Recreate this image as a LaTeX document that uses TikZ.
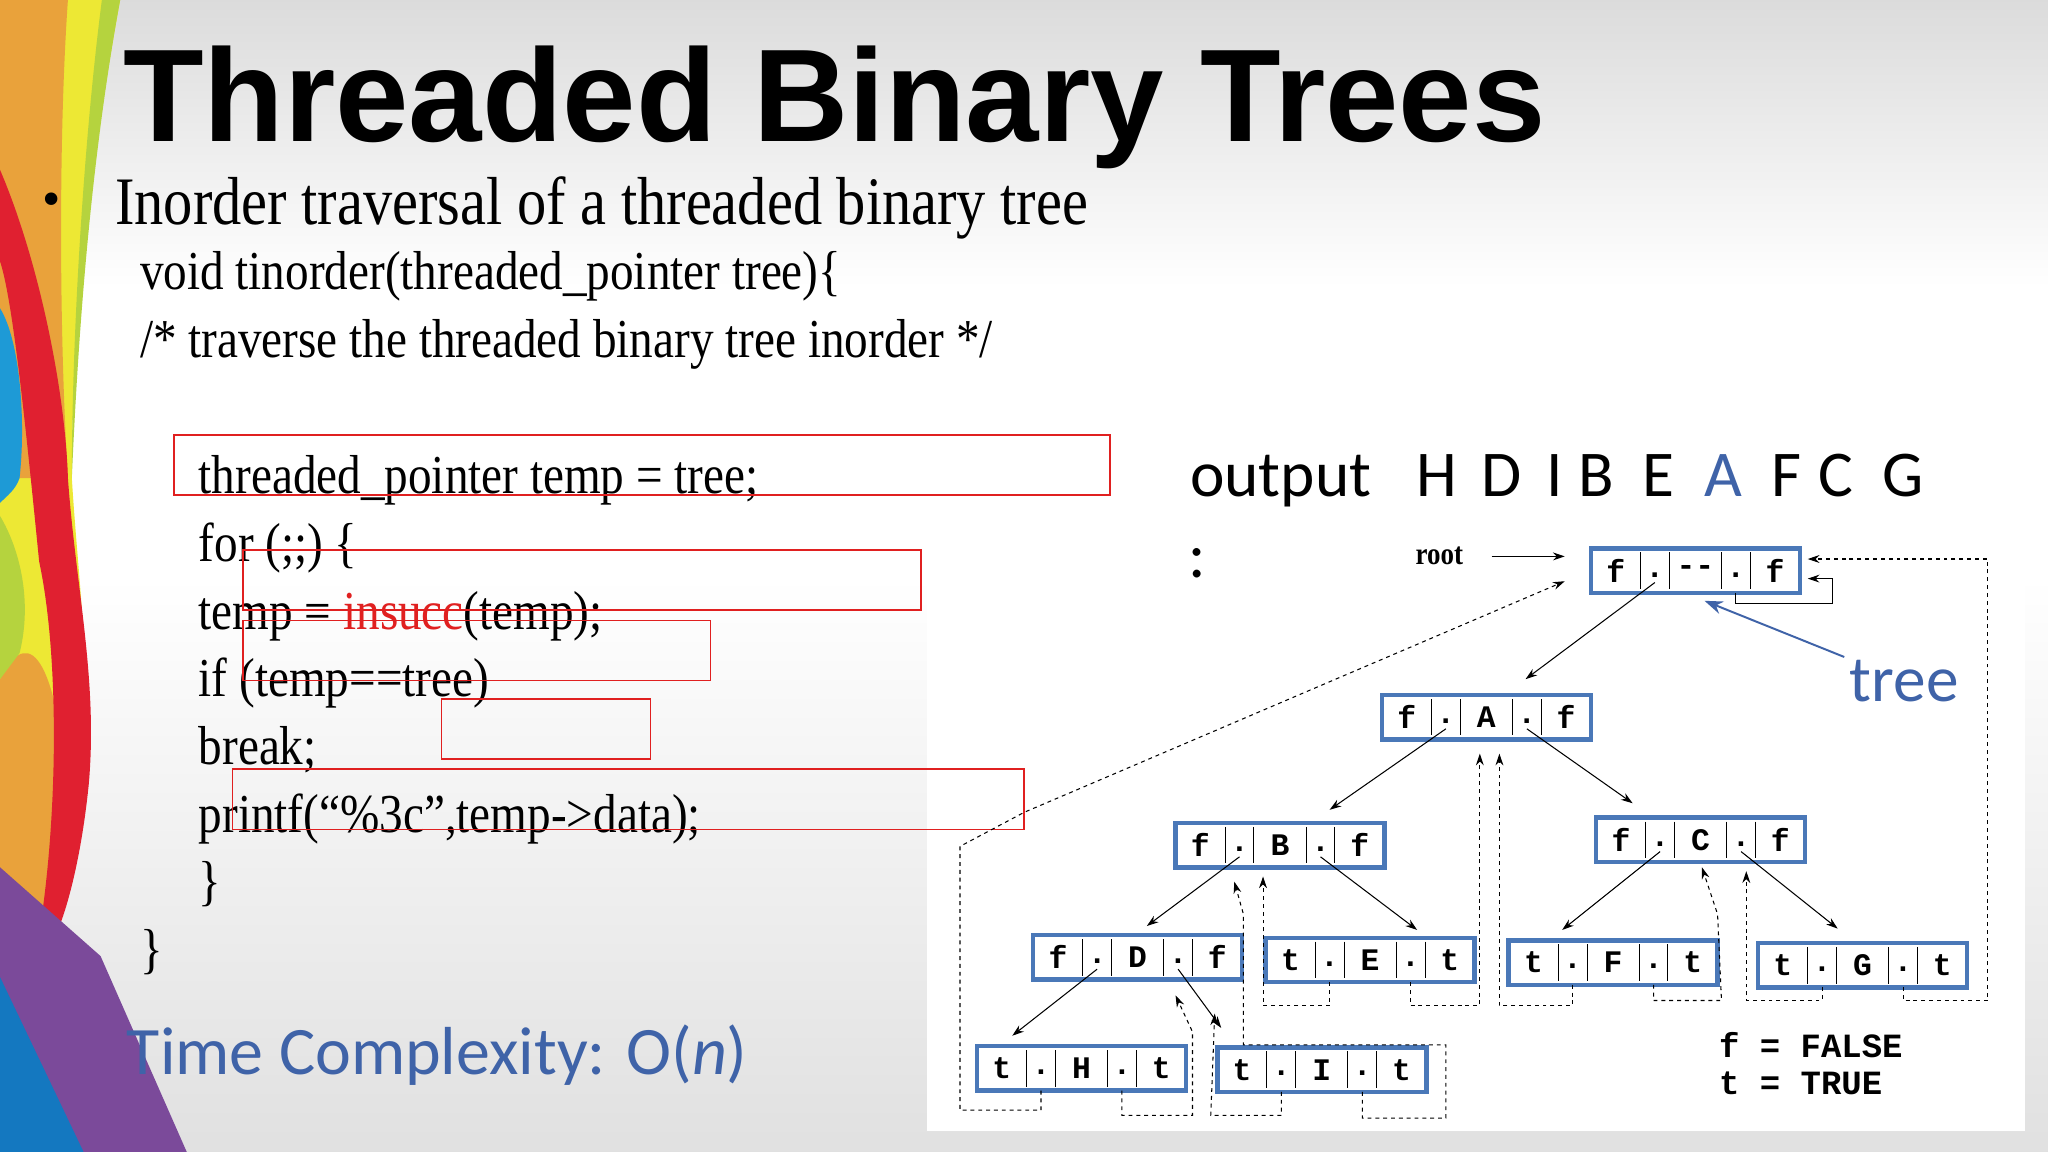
\documentclass[tikz,border=0pt]{standalone}
\usepackage{fontspec}
\setmainfont{Liberation Serif}
\newfontfamily\tsans{Liberation Sans}
\newfontfamily\cond[FakeStretch=0.86]{Liberation Serif}
\newfontfamily\carl{Carlito}
\newfontfamily\cellf{Liberation Mono}
\usetikzlibrary{arrows.meta}
\definecolor{bblue}{HTML}{4A78B8}
\definecolor{tblue}{HTML}{3F63A8}
\definecolor{rbox}{HTML}{E02020}
\definecolor{corange}{HTML}{E9A23B}
\definecolor{cyellow}{HTML}{EDE834}
\definecolor{cgreen}{HTML}{B5D33E}
\definecolor{cred}{HTML}{E02030}
\definecolor{cblue}{HTML}{1E9AD6}
\definecolor{cblue2}{HTML}{1478C0}
\definecolor{cpurple}{HTML}{7B4A9A}
\tikzset{
 redbox/.style={draw=rbox,line width=1.3pt},
 edge/.style={-{Stealth[length=9pt,width=6pt]},line width=0.8pt},
 thread/.style={dashed,dash pattern=on 3pt off 3pt,line width=0.8pt,-{Stealth[length=9pt,width=6pt]}},
 cell/.style={font=\cellf\bfseries\fontsize{24}{24}\selectfont,inner sep=0pt},
 code/.style={anchor=base west,font=\cond\fontsize{42}{42}\selectfont,inner sep=0pt},
 outl/.style={anchor=base west,inner sep=0,font=\carl\fontsize{50}{50}\selectfont},
}
\newcommand\tbox[6]{%
 \begin{scope}[shift={(#2,#3)}]
 \node[draw=bblue,line width=3.5pt,fill=white,minimum width=160pt,minimum height=34pt,inner sep=0pt] (#1) at (80,17) {};
 \foreach \xx in {38,60,100,122}{\draw[line width=0.7pt] (\xx,3) -- (\xx,31);}
 \node[cell] (#1-a) at (19,17) {#4};
 \node[cell] (#1-b) at (80,17) {#5};
 \node[cell] (#1-c) at (141,17) {#6};
 \node[cell] (#1-p) at (49,20) {.};
 \node[cell] (#1-q) at (111,20) {.};
 \coordinate (#1-l) at (49,26);
 \coordinate (#1-r) at (111,26);
 \coordinate (#1-lb) at (49,34);
 \coordinate (#1-rb) at (111,34);
 \end{scope}}
\begin{document}
\begin{tikzpicture}[x=1pt,y=-1pt]
\useasboundingbox (0,0) rectangle (1568,882);
\shade[top color=black!14,bottom color=white,middle color=white] (0,0) rectangle (1568,441);
\shade[top color=white,bottom color=black!12] (0,441) rectangle (1568,882);
% colourful band
\fill[cyellow] (0,0) -- (92,0) .. controls (70,120) and (55,250) .. (55,366) .. controls (60,450) and (72,520) .. (60,620) -- (0,700) -- cycle;
\fill[cgreen] (78,0) -- (92,0) .. controls (70,120) and (60,250) .. (55,366) .. controls (55,250) and (65,100) .. (78,0);
\fill[corange] (0,0) -- (52,0) .. controls (45,100) and (45,250) .. (52,366) -- (0,366) -- cycle;
\fill[corange] (0,520) .. controls (25,470) and (45,520) .. (50,600) .. controls (52,650) and (48,700) .. (40,720) -- (0,720) -- cycle;
\fill[cred] (0,130) .. controls (30,200) and (50,300) .. (52,366) .. controls (58,450) and (75,520) .. (68,600) .. controls (62,660) and (50,700) .. (43,715) -- (30,715) .. controls (45,620) and (45,500) .. (30,430) .. controls (20,330) and (10,230) .. (0,200) -- cycle;
\fill[cblue] (0,236) .. controls (15,260) and (20,320) .. (15,366) .. controls (12,375) and (5,380) .. (0,385) -- cycle;
\fill[cgreen] (0,395) .. controls (15,420) and (25,460) .. (15,500) -- (0,520) -- cycle;
\fill[cpurple] (0,664) -- (77,732) -- (143,882) -- (0,882) -- cycle;
\fill[cblue2] (0,748) -- (64,882) -- (0,882) -- cycle;
% white panel
\fill[white] (710,395) rectangle (1550,866);
% title
\node[anchor=base west,inner sep=0,font=\tsans\bfseries\fontsize{101}{101}\selectfont] (title) at (94,108) {Threaded Binary Trees};
\node[anchor=base west,inner sep=0,font=\fontsize{40}{40}\selectfont] (bul) at (32,166) {•};
\node[code,font=\cond\fontsize{52}{52}\selectfont] (l0) at (88,172) {Inorder traversal of a threaded binary tree};
\node[code] (l1) at (107,222) {void tinorder(threaded\_pointer tree)\{};
\node[code] (l2) at (107,274) {/* traverse the threaded binary tree inorder */};
\node[code] (c1) at (152,378) {threaded\_pointer temp = tree;};
\node[code] (c2) at (152,430) {for (;;) \{};
\node[code] (c3) at (152,482) {temp = \textcolor{rbox}{insucc}(temp);};
\node[code] (c4) at (152,533) {if (temp==tree)};
\node[code] (c5) at (152,585) {break;};
\node[code] (c6) at (152,637) {printf(“\%3c”,temp->data);};
\node[code] (c7) at (152,689) {\}};
\node[code] (c8) at (107,741) {\}};
\draw[redbox] (133,333) rectangle (850,379);
\draw[redbox] (186,421) rectangle (705,467);
\draw[redbox] (186,475) rectangle (544,521);
\draw[redbox] (338,535) rectangle (498,581);
\draw[redbox] (178,589) rectangle (784,635);
\node[anchor=base west,inner sep=0,text=tblue,font=\carl\fontsize{52}{52}\selectfont] (tc) at (97,823) {Time Complexity: O(\textit{n})};
\node[outl] (out) at (911,380) {output};
\node[outl] (oH) at (1084,380) {H};
\node[outl] (oD) at (1134,380) {D};
\node[outl] (oI) at (1184,380) {I};
\node[outl] (oB) at (1208,380) {B};
\node[outl] (oE) at (1257,380) {E};
\node[outl,text=tblue] (oA) at (1305,380) {A};
\node[outl] (oF) at (1356,380) {F};
\node[outl] (oC) at (1392,380) {C};
\node[outl] (oG) at (1441,380) {G};
\node[outl] (colon) at (910,442) {:};
% tree
\tbox{R}{1218}{420}{f}{--}{f}
\tbox{A}{1058}{532}{f}{A}{f}
\tbox{B}{900}{630}{f}{B}{f}
\tbox{C}{1222}{626}{f}{C}{f}
\tbox{D}{791}{716}{f}{D}{f}
\tbox{E}{969}{718}{t}{E}{t}
\tbox{F}{1155}{720}{t}{F}{t}
\tbox{G}{1346}{722}{t}{G}{t}
\tbox{H}{748}{801}{t}{H}{t}
\tbox{I}{932}{802}{t}{I}{t}
\node[anchor=base,inner sep=0,font=\cond\bfseries\fontsize{24}{24}\selectfont] (root) at (1102,432) {root};
\coordinate (rin) at (1198,426);
\coordinate (rin2) at (1198,445);
\draw[edge] (1142,426) -- (rin);
% child edges
\draw[edge] (R-l) -- (1168,520);
\draw[edge] (A-l) -- (1018,620);
\draw[edge] (A-r) -- (1250,615);
\draw[edge] (B-l) -- (878,709);
\draw[edge] (B-r) -- (1085,712);
\draw[edge] (C-l) -- (1196,712);
\draw[edge] (C-r) -- (1407,711);
\draw[edge] (D-l) -- (775,793);
\draw[edge] (D-r) -- (935,787);
% threads
\draw[thread] (H-lb) |- (735,850) -- (735,648) -- (784,622) -- (rin2);
\draw[thread] (H-rb) |- (913,854) -- (913,790) -- (900,762);
\draw[thread] (I-lb) |- (927,854) -- (930,776);
\draw[thread] (I-rb) |- (1107,856) -- (1107,800) -- (952,800) -- (952,700) -- (945,675);
\draw[thread] (E-lb) |- (967,770) -- (967,671);
\draw[thread] (E-rb) |- (1133,770) -- (1133,577);
\draw[thread] (F-lb) |- (1148,770) -- (1148,577);
\draw[thread] (F-rb) |- (1318,766) -- (1315,700) -- (1303,664);
\draw[thread] (G-lb) |- (1337,766) -- (1337,667);
\draw[thread] (G-rb) |- (1522,766) -- (1522,428) -- (1384,428);
\draw[-{Stealth[length=9pt,width=6pt]},line width=0.8pt] (R-rb) |- (1403,462) -- (1403,443) -- (1384,443);
\draw[tblue,line width=1.5pt,-{Stealth[length=14pt,width=10pt]}] (1412,503) -- (1305,460);
\node[anchor=base west,inner sep=0,text=tblue,font=\carl\fontsize{50}{50}\selectfont] (tree) at (1416,537) {tree};
\node[anchor=base west,inner sep=0,font=\cellf\bfseries\fontsize{26}{26}\selectfont] (lf) at (1316,810) {f = FALSE};
\node[anchor=base west,inner sep=0,font=\cellf\bfseries\fontsize{26}{26}\selectfont] (lt) at (1316,838) {t = TRUE};
\end{tikzpicture}
\end{document}
